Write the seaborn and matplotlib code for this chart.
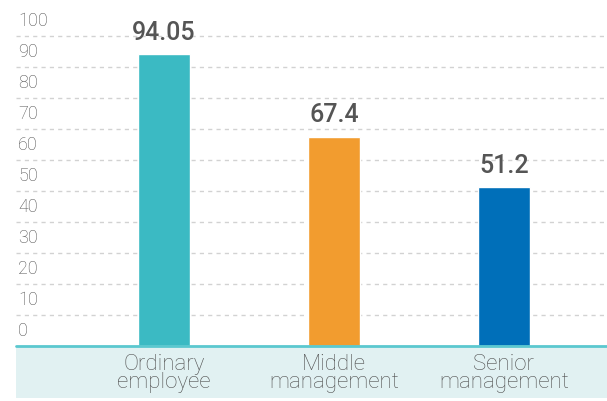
import numpy as np
import matplotlib
matplotlib.use("Agg")
import matplotlib.pyplot as plt
import matplotlib.transforms as mtransforms
from matplotlib.patches import Rectangle
import seaborn as sns
import pandas as pd

# Chart data
categories = ["Ordinary\nemployee", "Middle\nmanagement", "Senior\nmanagement"]
values = [94.05, 67.4, 51.2]
value_labels = ["94.05", "67.4", "51.2"]
colors = ["#3bbac3", "#f29c2f", "#006fb9"]
y_ticks = [0, 10, 20, 30, 40, 50, 60, 70, 80, 90, 100]

df = pd.DataFrame({"Category": categories, "Value": values})

sns.set_style("white")
plt.rcParams["font.family"] = ["Roboto", "DejaVu Sans"]

fig = plt.figure(figsize=(6.07, 4.01), dpi=100)
ax = fig.add_axes([16 / 607, 55 / 401, 1 - 16 / 607, 346 / 401])

sns.barplot(data=df, x="Category", y="Value", hue="Category",
            palette=colors, legend=False, width=0.306, saturation=1, ax=ax, zorder=3)

ax.set_xlim(-0.87, 2.606)
ax.set_ylim(0, 111.6)

# dashed grid lines + baseline
for t in y_ticks[1:]:
    ax.axhline(t, color="#d2d2d2", lw=1, ls=(0, (3, 3)), zorder=1)
ax.axhline(0, color="#5bc8cf", lw=2, zorder=4, clip_on=False)

# light teal band behind the category labels
band = Rectangle((0, -52 / 346), 1, 52 / 346, transform=ax.transAxes,
                 facecolor="#e1f1f2", edgecolor="none", clip_on=False, zorder=0)
ax.add_patch(band)

# y tick labels sit above their gridlines
trans = mtransforms.offset_copy(
    mtransforms.blended_transform_factory(ax.transAxes, ax.transData),
    fig=fig, x=2, y=10, units="dots")
for t in y_ticks:
    ax.text(0, t, str(t), transform=trans, ha="left", va="baseline",
            fontsize=13, color="#505050", fontweight="light")
ax.set_yticks([])

# value labels
for i, (v, lab) in enumerate(zip(values, value_labels)):
    ax.annotate(lab, (i, v), xytext=(0, 10.5), textcoords="offset points",
                ha="center", va="baseline", fontsize=18, fontweight="medium",
                color="#555555")

ax.set_xlabel("")
ax.set_ylabel("")
ax.tick_params(axis="x", length=0, pad=6)
for lbl in ax.get_xticklabels():
    lbl.set_fontsize(16)
    lbl.set_color("#505050")
    lbl.set_fontweight("light")
    lbl.set_linespacing(0.8)

sns.despine(ax=ax, left=True, bottom=True)
ax.set_facecolor("none")

fig.savefig("out.png", dpi=100)
